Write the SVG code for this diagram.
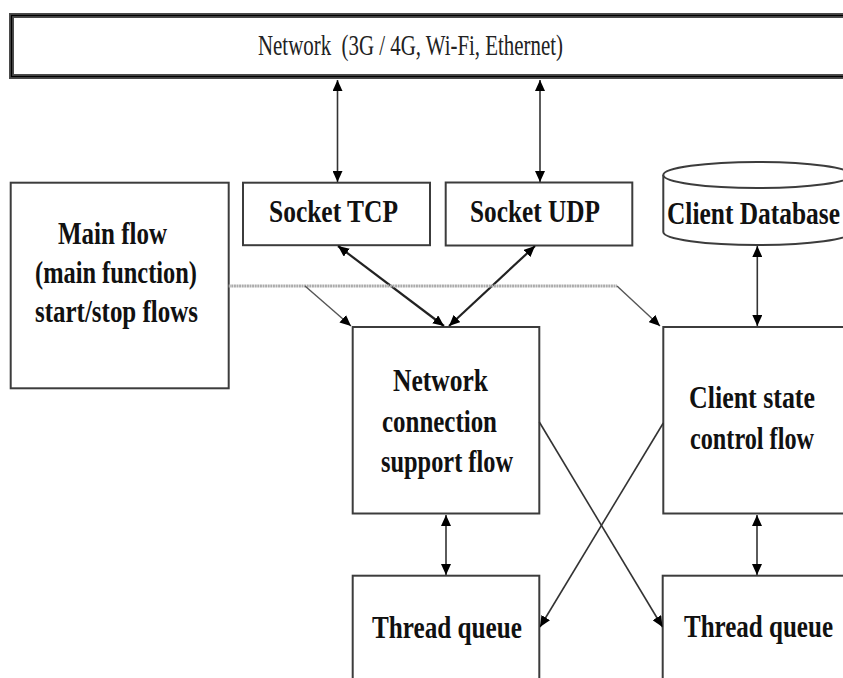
<svg xmlns="http://www.w3.org/2000/svg" width="843" height="678" viewBox="0 0 843 678">
<style>
  .box { fill: #fff; stroke: #3c3c3c; stroke-width: 2; }
  .lbl { font-family: "Liberation Serif", "Times New Roman", serif; font-weight: bold; font-size: 24.5px; fill: #111; }
  .net { font-family: "Liberation Serif", "Times New Roman", serif; font-size: 21px; fill: #222; }
  .con { fill: none; stroke: #333; stroke-width: 1.6; }
  .conb { fill: none; stroke: #222; stroke-width: 2.2; }
  .grey { fill: none; stroke: #ababab; stroke-width: 3; stroke-dasharray: 2 0.6; }
  .thin { fill: none; stroke: #555; stroke-width: 1.4; }
</style>
<defs>
  <marker id="ah" markerUnits="userSpaceOnUse" markerWidth="12" markerHeight="10" refX="11" refY="5" orient="auto-start-reverse">
    <path d="M0,0 L11,5 L0,10 Z" fill="#000"/>
  </marker>
</defs>
<rect width="843" height="678" fill="#fff"/>

<g id="network">
  <rect x="11.5" y="15.5" width="845" height="61" fill="#fff" stroke="#4a4a4a" stroke-width="5"/>
  <rect x="11.5" y="15.5" width="845" height="61" fill="none" stroke="#000" stroke-width="1.2"/>
  <text class="net" transform="translate(258,55) scale(1,1.42)" textLength="305" lengthAdjust="spacingAndGlyphs">Network &#160;(3G / 4G, Wi-Fi, Ethernet)</text>
</g>

<g id="main-flow">
  <rect class="box" x="10.7" y="182.7" width="218" height="205.6"/>
  <text class="lbl" transform="translate(58,244) scale(1,1.33)" textLength="109" lengthAdjust="spacingAndGlyphs">Main flow</text>
  <text class="lbl" transform="translate(35,283) scale(1,1.33)" textLength="162" lengthAdjust="spacingAndGlyphs">(main function)</text>
  <text class="lbl" transform="translate(35,322) scale(1,1.33)" textLength="163" lengthAdjust="spacingAndGlyphs">start/stop flows</text>
</g>

<g id="socket-tcp">
  <rect class="box" x="243" y="182.7" width="187" height="62.5"/>
  <text class="lbl" transform="translate(269,222) scale(1,1.33)" textLength="129" lengthAdjust="spacingAndGlyphs">Socket TCP</text>
</g>

<g id="socket-udp">
  <rect class="box" x="445.7" y="182.5" width="186.6" height="63"/>
  <text class="lbl" transform="translate(470,222) scale(1,1.33)" textLength="130" lengthAdjust="spacingAndGlyphs">Socket UDP</text>
</g>

<g id="client-db">
  <path d="M663.3,175 L663.3,232 A94,13 0 0 0 851.3,232 L851.3,175" fill="#fff" stroke="#3c3c3c" stroke-width="2"/>
  <ellipse cx="757.3" cy="175" rx="94" ry="13" fill="#fff" stroke="#3c3c3c" stroke-width="2"/>
  <text class="lbl" transform="translate(667,224) scale(1,1.33)" textLength="173" lengthAdjust="spacingAndGlyphs">Client Database</text>
</g>

<g id="net-conn-flow">
  <rect class="box" x="352.7" y="327" width="186.6" height="186.5"/>
  <text class="lbl" transform="translate(393,391) scale(1,1.33)" textLength="95" lengthAdjust="spacingAndGlyphs">Network</text>
  <text class="lbl" transform="translate(382,432) scale(1,1.33)" textLength="115" lengthAdjust="spacingAndGlyphs">connection</text>
  <text class="lbl" transform="translate(381,472) scale(1,1.33)" textLength="132" lengthAdjust="spacingAndGlyphs">support flow</text>
</g>

<g id="client-state-flow">
  <rect class="box" x="663.3" y="327" width="200" height="186.5"/>
  <text class="lbl" transform="translate(689,408) scale(1,1.33)" textLength="126" lengthAdjust="spacingAndGlyphs">Client state</text>
  <text class="lbl" transform="translate(690,449) scale(1,1.33)" textLength="124" lengthAdjust="spacingAndGlyphs">control flow</text>
</g>

<g id="thread-queue-1">
  <rect class="box" x="352.7" y="575.7" width="186.6" height="120"/>
  <text class="lbl" transform="translate(372,638) scale(1,1.33)" textLength="150" lengthAdjust="spacingAndGlyphs">Thread queue</text>
</g>

<g id="thread-queue-2">
  <rect class="box" x="662.7" y="575.7" width="200" height="120"/>
  <text class="lbl" transform="translate(684,637) scale(1,1.33)" textLength="149" lengthAdjust="spacingAndGlyphs">Thread queue</text>
</g>

<g id="connectors">
  <line class="con" x1="337.5" y1="80" x2="337.5" y2="182" marker-start="url(#ah)" marker-end="url(#ah)"/>
  <line class="con" x1="540" y1="80" x2="540" y2="182" marker-start="url(#ah)" marker-end="url(#ah)"/>
  <line class="conb" x1="338" y1="246" x2="444" y2="326" marker-start="url(#ah)" marker-end="url(#ah)"/>
  <line class="conb" x1="535" y1="246" x2="449" y2="326" marker-start="url(#ah)" marker-end="url(#ah)"/>
  <line class="con" x1="757.3" y1="246" x2="757.3" y2="326" marker-start="url(#ah)" marker-end="url(#ah)"/>
  <line class="con" x1="446" y1="515" x2="446" y2="575" marker-start="url(#ah)" marker-end="url(#ah)"/>
  <line class="con" x1="757" y1="515" x2="757" y2="575" marker-start="url(#ah)" marker-end="url(#ah)"/>
  <line class="con" x1="539.3" y1="422" x2="662.5" y2="627" marker-end="url(#ah)"/>
  <line class="con" x1="663.3" y1="423" x2="540" y2="627" marker-end="url(#ah)"/>
  <polyline class="grey" points="228.7,286 617,286"/>
  <line class="thin" x1="617" y1="286" x2="660" y2="326" marker-end="url(#ah)"/>
  <line class="thin" x1="305" y1="286" x2="351" y2="326" marker-end="url(#ah)"/>
</g>
</svg>
